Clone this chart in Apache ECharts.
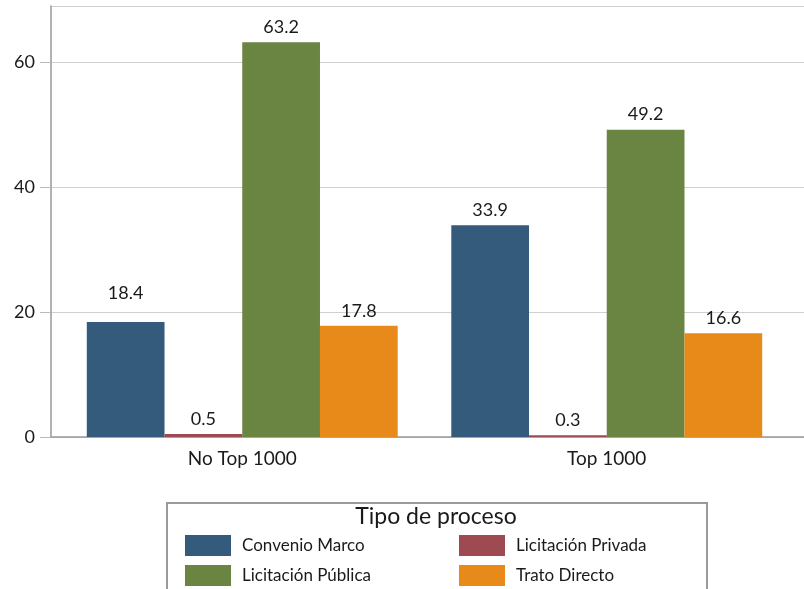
<!DOCTYPE html>
<html>
<head>
<meta charset="utf-8">
<script src="https://cdn.jsdelivr.net/npm/echarts@6/dist/echarts.min.js"></script>
<style>
  html, body { margin: 0; padding: 0; background: #fff; }
  #chart { width: 804px; height: 589px; }
</style>
</head>
<body>
<div id="chart"></div>
<script>
const categories = ['No Top 1000', 'Top 1000']
const convenioMarco = [18.4, 33.9]
const licitacionPrivada = [0.5, 0.3]
const licitacionPublica = [63.2, 49.2]
const tratoDirecto = [17.8, 16.6]
const yTicks = [0, 20, 40, 60]

const FONT = 'Lato, "Open Sans", sans-serif'
const textColor = '#1a1a1a'

const seriesDefs = [
  { name: 'Convenio Marco', data: convenioMarco, color: '#345a7c' },
  { name: 'Licitación Privada', data: licitacionPrivada, color: '#9e4a52' },
  { name: 'Licitación Pública', data: licitacionPublica, color: '#6a8442' },
  { name: 'Trato Directo', data: tratoDirecto, color: '#e88a19' }
]

const chart = echarts.init(document.getElementById('chart'))

const yMax = 69
const gridTop = 6
const gridBottom = 152

const legendBase = {
  orient: 'vertical', top: 535, z: 12, padding: 0,
  itemWidth: 46, itemHeight: 21, itemGap: 9, icon: 'rect',
  textStyle: { color: textColor, fontSize: 17, fontFamily: FONT, padding: [0, 0, 0, 6] }
}

chart.setOption({
  animation: false,
  textStyle: { fontFamily: FONT },
  grid: [
    // frame grid: y axis + gridlines across the full width
    { left: 51, right: 0, top: gridTop, bottom: gridBottom },
    // bar grid: slightly inset like the original
    { left: 60, right: 15, top: gridTop, bottom: gridBottom }
  ],
  xAxis: [
    {
      gridIndex: 0, type: 'category', data: categories,
      axisLine: { show: true, lineStyle: { color: '#999', width: 1.5 } },
      axisTick: { show: false }, axisLabel: { show: false }
    },
    {
      gridIndex: 1, type: 'category', data: categories,
      axisLine: { show: false }, axisTick: { show: false },
      axisLabel: { color: textColor, fontSize: 19, margin: 12, fontFamily: FONT }
    }
  ],
  yAxis: [
    {
      gridIndex: 0, type: 'value', min: yTicks[0], max: yMax, interval: 20,
      axisLine: { show: true, lineStyle: { color: '#999', width: 1.5 } },
      axisTick: { show: true, length: 11, lineStyle: { color: '#bbb' } },
      axisLabel: {
        color: textColor, fontSize: 18, margin: 16, fontFamily: FONT,
        showMaxLabel: false,
        formatter: (v) => (yTicks.includes(v) ? String(v) : '')
      },
      splitLine: { show: true, lineStyle: { color: '#cfcfcf', width: 1 } }
    },
    {
      gridIndex: 1, type: 'value', min: yTicks[0], max: yMax,
      show: false, splitLine: { show: false }
    }
  ],
  graphic: [
    {
      type: 'rect', left: 166, top: 502, z: 10,
      shape: { width: 540, height: 110 },
      style: { fill: '#fff', stroke: '#9a9a9a', lineWidth: 2 }
    },
    {
      type: 'text', x: 436, y: 505, z: 11,
      style: {
        text: 'Tipo de proceso', fill: textColor, fontSize: 23, fontFamily: FONT,
        align: 'center', verticalAlign: 'top'
      }
    }
  ],
  legend: [
    Object.assign({ data: ['Convenio Marco', 'Licitación Pública'], left: 185 }, legendBase),
    Object.assign({ data: ['Licitación Privada', 'Trato Directo'], left: 459 }, legendBase)
  ],
  series: seriesDefs.map((s, si) => ({
    name: s.name,
    type: 'bar',
    xAxisIndex: 1,
    yAxisIndex: 1,
    barGap: '0%',
    barCategoryGap: '14.7%',
    itemStyle: { color: s.color },
    label: {
      show: true, position: 'top', distance: 6,
      color: textColor, fontSize: 18, fontFamily: FONT,
      formatter: (p) => p.value.toFixed(1)
    },
    // the first label sits above the gridline in the original
    data: s.data.map((v, i) => (si === 0 && i === 0
      ? { value: v, label: { distance: 20 } }
      : v))
  }))
})
</script>
</body>
</html>
